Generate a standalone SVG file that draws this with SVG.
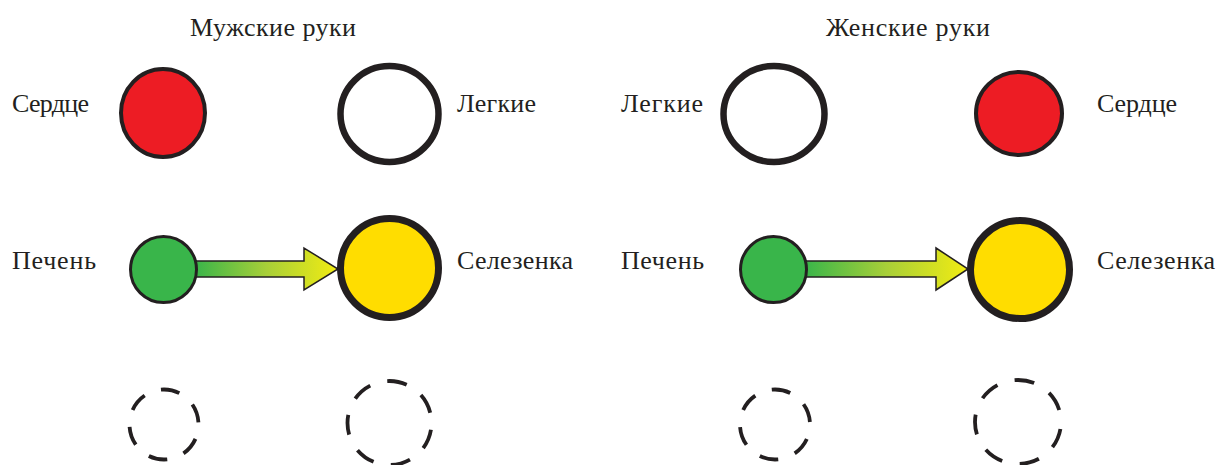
<svg xmlns="http://www.w3.org/2000/svg" width="1219" height="465" viewBox="0 0 1219 465">
<style>
  text { font-family: "Liberation Serif", "DejaVu Serif", serif; font-size: 26px; fill: #231f20; }
  .red { fill: #ed1c24; stroke: #231f20; stroke-width: 4; }
  .white { fill: #ffffff; stroke: #231f20; stroke-width: 6.5; }
  .green { fill: #39b54a; stroke: #231f20; stroke-width: 3; }
  .yellow { fill: #ffdd00; stroke: #231f20; stroke-width: 7; }
  .dash { fill: none; stroke: #231f20; stroke-width: 3.8; stroke-linecap: butt; }
  .arrow { fill: url(#grad); stroke: #231f20; stroke-width: 1.5; stroke-linejoin: miter; }
</style>
<defs>
  <linearGradient id="grad" x1="0" y1="0" x2="1" y2="0">
    <stop offset="0" stop-color="#39b54a"/>
    <stop offset="0.5" stop-color="#a8cf38"/>
    <stop offset="1" stop-color="#f2ec12"/>
  </linearGradient>
</defs>
<rect width="1219" height="465" fill="#ffffff"/>

<g id="title-male"><text x="190" y="36" textLength="166">Мужские руки</text></g>
<g id="title-female"><text x="826" y="36" textLength="164">Женские руки</text></g>

<g id="connectors">
  <path class="arrow" d="M195,261 L304,261 L304,248 L338,269 L304,290 L304,277 L195,277 Z"/>
  <path class="arrow" d="M805,261 L936,261 L936,248 L968,269 L936,290 L936,277 L805,277 Z"/>
</g>

<g id="m-heart">
  <ellipse class="red" cx="163" cy="113" rx="42" ry="44"/>
  <text x="12" y="112" textLength="77">Сердце</text>
</g>
<g id="m-lungs">
  <ellipse class="white" cx="389.5" cy="114" rx="49" ry="48"/>
  <text x="457" y="112" textLength="79">Легкие</text>
</g>
<g id="m-liver">
  <ellipse class="green" cx="163.5" cy="269.5" rx="33" ry="33"/>
  <text x="12" y="269" textLength="84">Печень</text>
</g>
<g id="m-spleen">
  <ellipse class="yellow" cx="389.5" cy="268" rx="49" ry="49.5"/>
  <text x="457" y="269" textLength="116">Селезенка</text>
</g>
<g id="m-empty1"><ellipse class="dash" cx="164" cy="424.5" rx="34.5" ry="35" stroke-dasharray="19 17.4" stroke-dashoffset="21.6"/></g>
<g id="m-empty2"><ellipse class="dash" cx="389.5" cy="423" rx="42" ry="42" stroke-dasharray="20 17.7" stroke-dashoffset="30.9"/></g>

<g id="f-lungs">
  <ellipse class="white" cx="774" cy="114" rx="50.5" ry="48"/>
  <text x="621" y="112" textLength="82">Легкие</text>
</g>
<g id="f-heart">
  <ellipse class="red" cx="1019" cy="113.5" rx="43" ry="41.5"/>
  <text x="1097" y="112" textLength="80">Сердце</text>
</g>
<g id="f-liver">
  <ellipse class="green" cx="773.5" cy="269.5" rx="33" ry="33"/>
  <text x="621" y="269" textLength="83">Печень</text>
</g>
<g id="f-spleen">
  <ellipse class="yellow" cx="1020" cy="269.5" rx="49.5" ry="49"/>
  <text x="1097" y="269" textLength="118">Селезенка</text>
</g>
<g id="f-empty1"><ellipse class="dash" cx="775" cy="424.5" rx="35" ry="35" stroke-dasharray="19 17.6" stroke-dashoffset="21.6"/></g>
<g id="f-empty2"><ellipse class="dash" cx="1018" cy="422" rx="43" ry="42" stroke-dasharray="20 17.9" stroke-dashoffset="30.9"/></g>
</svg>
